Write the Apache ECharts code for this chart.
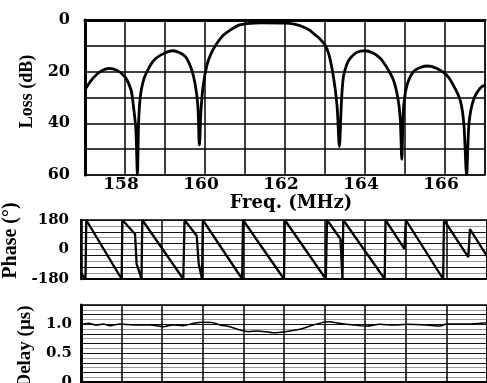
<!DOCTYPE html>
<html>
<head>
<meta charset="utf-8">
<script src="https://cdn.jsdelivr.net/npm/echarts@6/dist/echarts.min.js"></script>
<style>
  html, body { margin: 0; padding: 0; background: #fff; }
  #chart { width: 487px; height: 383px; }
</style>
</head>
<body>
<div id="chart"></div>
<script>
// loss response (dB)
const lossFreq = [157.0, 157.2, 157.4, 157.6, 157.8, 158.0, 158.15, 158.2, 158.27, 158.31,
  158.34, 158.38, 158.45, 158.55, 158.7, 158.9, 159.2, 159.5, 159.65, 159.75, 159.82, 159.86,
  159.9, 159.95, 160.04, 160.15, 160.3, 160.45, 160.63, 160.85, 161.05, 161.4, 162.0, 162.2,
  162.4, 162.6, 162.71, 162.85, 163.0, 163.1, 163.21, 163.3, 163.36, 163.41, 163.46, 163.55,
  163.63, 163.8, 164.0, 164.2, 164.38, 164.55, 164.71, 164.82, 164.88, 164.92, 164.96, 165.04,
  165.21, 165.4, 165.58, 165.8, 166.04, 166.2, 166.38, 166.47, 166.54, 166.6, 166.71, 166.88, 167.0];
const lossDb = [27, 22.5, 19.8, 18.7, 19.5, 22, 27, 32, 42, 60,
  40, 30, 24, 20, 16, 13.5, 11.9, 14, 18.5, 24.5, 33, 48.4,
  35, 26, 18, 13, 9, 6, 3.9, 2, 1.4, 1.1, 1.2, 1.5,
  2.3, 3.8, 5.2, 7, 9.7, 13.5, 21.9, 33, 49, 32, 22, 17,
  14.8, 12.5, 11.9, 12.8, 14.8, 18.5, 23.2, 30, 38, 53.9, 35, 25.8,
  20, 18.3, 17.8, 18.8, 21.3, 25, 31, 40, 60, 40, 31, 26.4, 25.2];

// phase (deg)
const phaseFreq = [157.0, 157.11, 157.13, 158.0, 158.02, 158.33, 158.37, 158.49, 158.51, 159.52,
  159.55, 159.85, 159.9, 159.98, 160.0, 160.97, 160.99, 162.0, 162.02, 163.03, 163.06, 163.39,
  163.44, 163.46, 164.48, 164.5, 164.97, 165.0, 165.92, 165.94, 166.54, 166.58, 167.0];
const phaseDeg = [-145, -180, 180, -180, 180, 95, -88, -180, 180, -180,
  180, 84, -88, -180, 180, -180, 180, -180, 180, -180, 180, 64,
  -180, 180, -180, 180, 3, 180, -180, 180, -46, 125, -40];

// group delay (us)
const delayFreq = [157.0, 157.18, 157.39, 157.55, 157.71, 157.96, 158.29, 158.7, 159.03, 159.27,
  159.52, 159.77, 160.01, 160.26, 160.42, 160.67, 160.92, 161.12, 161.33, 161.74, 162.02, 162.39,
  162.72, 163.09, 163.38, 163.71, 164.04, 164.36, 164.69, 165.02, 165.51, 165.84, 166.01, 166.5, 167.0];
const delayUs = [0.99, 1.016, 0.987, 1.004, 0.975, 1.004, 0.987, 0.987, 0.958, 0.987,
  0.975, 1.016, 1.033, 1.027, 0.987, 0.958, 0.9, 0.871, 0.883, 0.854, 0.871, 0.912,
  0.987, 1.044, 1.016, 0.987, 0.97, 0.999, 0.987, 0.999, 0.987, 0.97, 1.004, 1.004, 1.027];

const freqTickLabels = [158, 160, 162, 164, 166];
const lossTickLabels = [0, 20, 40, 60];
const phaseTickLabels = [-180, 0, 180];
const delayTickLabels = ["0", "0.5", "1.0"];

const zip = (xs, ys) => xs.map((x, i) => [x, ys[i]]);

const tickFont = { fontFamily: "DejaVu Serif", fontWeight: "bold", color: "#000" };
const titleFont = { fontFamily: "Liberation Serif", fontWeight: "bold", color: "#000" };

const chart = echarts.init(document.getElementById("chart"));

const bottomX = (idx) => ({
  gridIndex: idx,
  type: "value",
  min: 157,
  max: 167,
  interval: 1,
  axisLine: { onZero: false, lineStyle: { color: "#000", width: 2 } },
  axisTick: { show: false },
  axisLabel: { show: false },
  splitLine: { lineStyle: { color: "#000", width: 1.5 } },
});

// extra axis that only draws every other (darker) horizontal rule
const darkRules = (idx, min, max, interval) => ({
  gridIndex: idx,
  type: "value",
  min,
  max,
  interval,
  axisLine: { show: false },
  axisTick: { show: false },
  axisLabel: { show: false },
  splitLine: { show: true, lineStyle: { color: "#111", width: 1 } },
});

const option = {
  animation: false,
  backgroundColor: "#fff",
  grid: [
    { left: 85, top: 20, width: 400, height: 155, show: true, borderColor: "#444", borderWidth: 1.5, outerBoundsMode: "none" },
    { left: 81, top: 220, width: 406, height: 59, show: true, borderColor: "#000", borderWidth: 1.5, outerBoundsMode: "none" },
    { left: 81, top: 305, width: 406, height: 77, show: true, borderColor: "#000", borderWidth: 1.5, outerBoundsMode: "none" },
  ],
  xAxis: [
    {
      gridIndex: 0,
      type: "value",
      min: 157,
      max: 167,
      interval: 1,
      axisLine: { lineStyle: { color: "#000", width: 3 } },
      axisTick: { show: false },
      splitLine: { lineStyle: { color: "#000", width: 1.5 } },
      axisLabel: {
        ...tickFont,
        fontSize: 17,
        margin: 1,
        padding: [0, 8, 0, 0],
        formatter: (v) => (freqTickLabels.includes(v) ? String(v) : ""),
      },
      name: "Freq. (MHz)",
      nameLocation: "middle",
      nameGap: 17,
      nameTextStyle: { ...tickFont, fontSize: 18, padding: [0, 0, 0, 12] },
    },
    bottomX(1),
    bottomX(2),
  ],
  yAxis: [
    {
      gridIndex: 0,
      type: "value",
      inverse: true,
      min: 0,
      max: 60,
      interval: 10,
      axisLine: { show: true, lineStyle: { color: "#000", width: 3 } },
      axisTick: { show: false },
      splitLine: { lineStyle: { color: "#000", width: 1.5 } },
      axisLabel: {
        ...tickFont,
        fontSize: 16,
        margin: 15,
        formatter: (v) => (lossTickLabels.includes(v) ? String(v) : ""),
      },
      name: "Loss (dB)",
      nameLocation: "middle",
      nameRotate: 90,
      nameGap: 45,
      nameTextStyle: { ...titleFont, fontSize: 18, padding: [0, 0, 0, 12] },
    },
    {
      gridIndex: 1,
      type: "value",
      min: -180,
      max: 180,
      interval: 36,
      axisLine: { show: true, lineStyle: { color: "#000", width: 2.5 } },
      axisTick: { show: false },
      splitLine: { show: true, lineStyle: { color: "#999", width: 1 } },
      axisLabel: {
        ...tickFont,
        fontSize: 15,
        margin: 12,
        formatter: (v) => (phaseTickLabels.includes(v) ? String(v) : ""),
      },
      name: "Phase (°)",
      nameLocation: "middle",
      nameRotate: 90,
      nameGap: 46,
      nameTextStyle: { ...titleFont, fontSize: 20, padding: [0, 0, 0, 18] },
    },
    {
      gridIndex: 2,
      type: "value",
      min: 0,
      max: 4 / 3,
      interval: 1 / 12,
      axisLine: { show: true, lineStyle: { color: "#000", width: 3 } },
      axisTick: { show: false },
      splitLine: { show: true, lineStyle: { color: "#999", width: 1 } },
      axisLabel: {
        ...tickFont,
        fontSize: 15,
        margin: 9,
        formatter: (v) => {
          const s = Math.abs(v) < 1e-6 ? "0" : (Math.round(v * 100) / 100).toFixed(1);
          return delayTickLabels.includes(s) && Math.abs(v * 2 - Math.round(v * 2)) < 1e-6 ? s : "";
        },
      },
      name: "Delay (µs)",
      nameLocation: "middle",
      nameRotate: 90,
      nameGap: 44,
      nameTextStyle: { ...titleFont, fontSize: 19, padding: [0, 6, 0, 0] },
    },
    darkRules(1, -180, 180, 72),
    darkRules(2, 0, 4 / 3, 1 / 6),
  ],
  series: [
    {
      type: "line",
      xAxisIndex: 0,
      yAxisIndex: 0,
      data: zip(lossFreq, lossDb),
      showSymbol: false,
      smooth: 0.3,
      lineStyle: { color: "#000", width: 2.8 },
    },
    {
      type: "line",
      xAxisIndex: 1,
      yAxisIndex: 1,
      data: zip(phaseFreq, phaseDeg),
      showSymbol: false,
      lineStyle: { color: "#000", width: 2.3 },
    },
    {
      type: "line",
      xAxisIndex: 2,
      yAxisIndex: 2,
      data: zip(delayFreq, delayUs),
      showSymbol: false,
      smooth: 0.3,
      lineStyle: { color: "#000", width: 1.5 },
    },
  ],
};

chart.setOption(option);
</script>
</body>
</html>
